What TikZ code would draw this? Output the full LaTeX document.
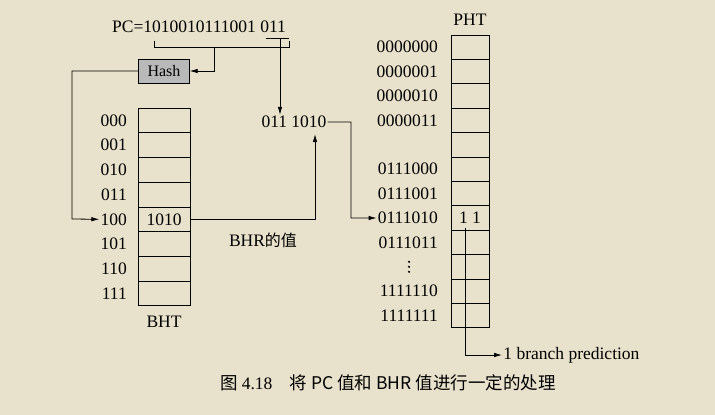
\documentclass[tikz,border=0pt]{standalone}
\usepackage{fontspec}
\setmainfont{Liberation Serif}
\newfontfamily\cjk{Noto Sans CJK SC}
\usetikzlibrary{arrows.meta}
\definecolor{bg}{HTML}{E8E1CB}
\begin{document}
\begin{tikzpicture}[x=1pt,y=-1pt,font=\fontsize{17.5}{20}\selectfont,
  cell/.style={draw,line width=0.8pt},
  conn/.style={line width=0.8pt},
  arr/.style={conn,-{Latex[length=8pt,width=4.5pt]}},
  lbl/.style={inner sep=1pt}]
\fill[bg] (0,0) rectangle (715,415);
\useasboundingbox (0,0) rectangle (715,415);
% PC
\node[lbl,anchor=west] (pc) at (111,27) {PC=1010010111001 011};
\draw[conn] (266,38) -- (289,38);
\draw[conn] (154,41) |- (289,47) -- (289,41);
\coordinate (bm) at (214,47);
\node[draw,fill=gray!55,minimum width=51,minimum height=24,inner sep=0] (hash) at (164,71) {\fontsize{16}{18}\selectfont Hash};
\draw[arr] (bm) |- (hash.east);
% BHT
\foreach \i/\t in {0/000,1/001,2/010,3/011,4/100,5/101,6/110,7/111}{
  \node[cell,minimum width=52,minimum height=24.7,inner sep=0] (b\i) at (164,{120.5+24.7*\i}) {};
  \node[lbl,anchor=east] (bl\i) at (128,{120.5+24.7*\i}) {\t};
}
\node at (b4) {1010};
\node[lbl] (bht) at (164,322) {BHT};
% index
\node[lbl] (idx) at (294,122) {011 1010};
\draw[arr] (280,38) -- (idx.north -| 280,0);
\draw[arr] (hash.west) -| (72,219) -- (bl4.west);
\draw[arr] (b4.east) -| (315,134);
\node[lbl] (bhrv) at (263,240) {BHR{\cjk\fontsize{16}{18}\selectfont 的值}};
% PHT
\foreach \i in {0,...,11}{
  \node[cell,minimum width=38,minimum height=24.4,inner sep=0] (p\i) at (470,{47.2+24.4*\i}) {};
}
\foreach \i/\t in {0/0000000,1/0000001,2/0000010,3/0000011,5/0111000,6/0111001,7/0111010,8/0111011,10/1111110,11/1111111}{
  \node[lbl,anchor=east] (pl\i) at (439,{47.2+24.4*\i}) {\t};
}
\foreach \d in {-5,0,5} \fill (409,{47.2+24.4*9+\d}) circle (1.2);
\node[lbl] (pht) at (470,20) {PHT};
\node[lbl] (v11) at (p7) {1 1};
\draw[arr] (idx.east) -| (351,218) -- (pl7.west);
\draw[arr] (465,228) |- (502,355) node[right,lbl] {1 branch prediction};
% caption
\node[lbl] at (388,383) {\cjk 图 \rmfamily 4.18\quad\cjk 将 PC 值和 BHR 值进行一定的处理};
\end{tikzpicture}
\end{document}
